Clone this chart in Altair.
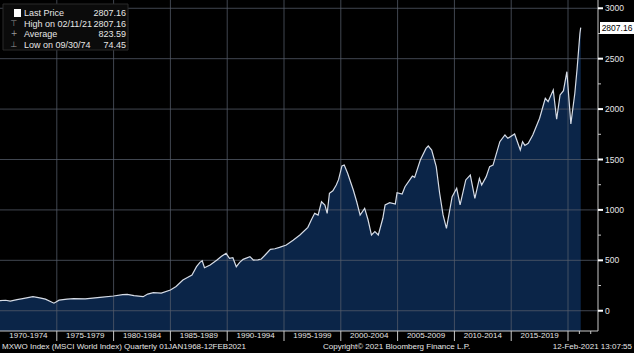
import altair as alt
import pandas as pd

# ---- data ----
years = [1970.0, 1970.5, 1970.9, 1971.5, 1972.0, 1972.9, 1973.5, 1974.0, 1974.75,
         1975.2, 1975.9, 1976.5, 1977.5, 1978.8, 1980.0, 1980.8, 1981.2, 1981.8,
         1982.6, 1983.0, 1983.5, 1984.2, 1985.0, 1985.5, 1986.1, 1986.5, 1986.9,
         1987.3, 1987.6, 1987.8, 1988.0, 1988.5, 1989.1, 1989.5, 1989.9, 1990.2,
         1990.5, 1990.8, 1991.1, 1991.4, 1992.0, 1992.3, 1992.7, 1993.0, 1993.4,
         1993.8, 1994.2, 1994.6, 1995.2, 1995.8, 1996.4, 1997.1, 1997.4, 1997.7,
         1998.0, 1998.3, 1998.6, 1998.8, 1999.0, 1999.3, 1999.6, 1999.8, 2000.1,
         2000.3, 2000.6, 2001.1, 2001.4, 2001.7, 2002.1, 2002.4, 2002.7, 2003.0,
         2003.3, 2003.7, 2003.9, 2004.3, 2004.8, 2004.95, 2005.4, 2005.65, 2006.3,
         2006.5, 2007.0, 2007.5, 2007.7, 2008.0, 2008.4, 2008.7, 2009.0, 2009.3,
         2009.8, 2010.2, 2010.5, 2011.0, 2011.4, 2011.8, 2012.2, 2012.4, 2012.8,
         2013.1, 2013.4, 2013.7, 2014.0, 2014.45, 2014.7, 2015.3, 2015.8, 2016.0,
         2016.2, 2016.5, 2016.9, 2017.5, 2018.0, 2018.25, 2018.7, 2019.0, 2019.3,
         2019.6, 2019.9, 2020.25, 2020.6, 2020.8, 2021.05, 2021.12]
values = [100, 104, 96, 110, 120, 139, 128, 115, 75,
          105, 116, 120, 118, 133, 146, 160, 163, 150,
          139, 165, 179, 175, 205, 240, 305, 330, 354,
          437, 480, 496, 427, 453, 503, 540, 569, 519,
          526, 437, 480, 510, 536, 503, 505, 513, 560,
          609, 615, 629, 652, 700, 751, 827, 900, 966,
          949, 1081, 1049, 966, 1165, 1190, 1247, 1300, 1436,
          1445, 1363, 1197, 1081, 949, 1016, 900, 751, 784,
          751, 917, 1049, 1072, 1059, 1171, 1158, 1230, 1336,
          1323, 1495, 1610, 1634, 1594, 1429, 1165, 950, 817,
          1131, 1214, 1049, 1297, 1346, 1115, 1313, 1247, 1330,
          1429, 1445, 1560, 1677, 1743, 1710, 1753, 1594, 1677,
          1640, 1661, 1743, 1909, 2107, 2073, 2190, 1899, 2140,
          2183, 2371, 1852, 2157, 2400, 2752, 2807.16]

period_labels = ["1970-1974", "1975-1979", "1980-1984", "1985-1989", "1990-1994",
                 "1995-1999", "2000-2004", "2005-2009", "2010-2014", "2015-2019"]
period_centers = [1972.5, 1977.5, 1982.5, 1987.5, 1992.5,
                  1997.5, 2002.5, 2007.5, 2012.5, 2017.5]
boundaries = [1975, 1980, 1985, 1990, 1995, 2000, 2005, 2010, 2015, 2020]
minor_years = [2021, 2022]
y_ticks = [0, 500, 1000, 1500, 2000, 2500, 3000]
y_minor = [250, 750, 1250, 1750, 2250, 2750]
y_tick_labels = ["0", "500", "1000", "1500", "2000", "2500", "3000"]

legend_labels = ["Last Price", "High on 02/11/21", "Average", "Low on 09/30/74"]
legend_values = ["2807.16", "2807.16", "823.59", "74.45"]
legend_icons = ["", "\u22a4", "+", "\u22a5"]

last_price = 2807.16
footer_left = "MXWO Index (MSCI World Index)  Quarterly 01JAN1968-12FEB2021"
footer_mid = "Copyright\u00a9 2021 Bloomberg Finance L.P."
footer_right = "12-Feb-2021 13:07:55"

X_DOMAIN = [1970, 2022.64]
Y_DOMAIN = [-201, 3082]

FONT = "Liberation Sans"
TXT = "#e6e6e6"
GRID = "#565e6b"
AXIS = "#c8c8c8"
W, H = 598, 331

df = pd.DataFrame({"year": years, "value": values})
xs = alt.Scale(domain=X_DOMAIN, nice=False, zero=False)
ys = alt.Scale(domain=Y_DOMAIN, nice=False, zero=False)


def X(field):
    return alt.X(field, scale=xs, axis=None)


def Y(field):
    return alt.Y(field, scale=ys, axis=None)


one = pd.DataFrame({"a": [0]})

area = alt.Chart(df).mark_area(color="#0b2548", opacity=1).encode(
    x=X("year:Q"), y=Y("value:Q"), y2=alt.datum(Y_DOMAIN[0]),
)

vgrid = alt.Chart(pd.DataFrame({"gx": boundaries})).mark_rule(
    color=GRID, strokeWidth=1, opacity=0.75
).encode(x=X("gx:Q"), y=alt.value(0), y2=alt.value(H))

hgrid = alt.Chart(pd.DataFrame({"gy": y_ticks})).mark_rule(
    color=GRID, strokeWidth=1, opacity=0.75
).encode(y=Y("gy:Q"), x=alt.value(0), x2=alt.value(W))

line = alt.Chart(df).mark_line(color="#d6dce6", strokeWidth=1.2).encode(
    x=X("year:Q"), y=Y("value:Q"),
)

# axes drawn by hand
x_domain_line = alt.Chart(one).mark_rule(color=AXIS, strokeWidth=1).encode(
    x=alt.value(0), x2=alt.value(W), y=alt.value(H))
y_domain_line = alt.Chart(one).mark_rule(color=AXIS, strokeWidth=1).encode(
    x=alt.value(W), y=alt.value(0), y2=alt.value(H))
x_seps = alt.Chart(pd.DataFrame({"b": boundaries})).mark_rule(color=AXIS, strokeWidth=1).encode(
    x=X("b:Q"), y=alt.value(H), y2=alt.value(H + 10))
x_minor = alt.Chart(pd.DataFrame({"b": minor_years})).mark_rule(color=AXIS, strokeWidth=1).encode(
    x=X("b:Q"), y=alt.value(H), y2=alt.value(H + 3))
y_major = alt.Chart(pd.DataFrame({"t": y_ticks})).mark_rule(color="white", strokeWidth=2).encode(
    y=Y("t:Q"), x=alt.value(W), x2=alt.value(W + 5))
y_minor_t = alt.Chart(pd.DataFrame({"t": y_minor})).mark_rule(color=AXIS, strokeWidth=1).encode(
    y=Y("t:Q"), x=alt.value(W), x2=alt.value(W + 3))
y_labels = alt.Chart(pd.DataFrame({"t": y_ticks, "lab": y_tick_labels})).mark_text(
    color=TXT, font=FONT, fontSize=8.5, align="left", baseline="middle"
).encode(y=Y("t:Q"), x=alt.value(W + 7), text="lab:N")

periods = alt.Chart(pd.DataFrame({"center": period_centers, "label": period_labels})).mark_text(
    color=TXT, font=FONT, fontSize=8, baseline="middle", align="center"
).encode(x=X("center:Q"), y=alt.value(336), text="label:N")

layers = [area, vgrid, hgrid, line, x_domain_line, y_domain_line, x_seps, x_minor,
          y_major, y_minor_t, y_labels, periods]

# legend box
layers.append(alt.Chart(one).mark_rect(
    fill="#0b0b0b", stroke="#2a2a2a", strokeWidth=1
).encode(x=alt.value(3), x2=alt.value(128), y=alt.value(4), y2=alt.value(50)))
layers.append(alt.Chart(one).mark_rect(fill="white").encode(
    x=alt.value(14), x2=alt.value(21), y=alt.value(9), y2=alt.value(17)))

ROW0, ROWSTEP = 13, 10.5
for i, (lab, val, ico) in enumerate(zip(legend_labels, legend_values, legend_icons)):
    ry = ROW0 + i * ROWSTEP
    d = pd.DataFrame({"label": [lab], "val": [val], "icon": [ico]})
    layers.append(alt.Chart(d).mark_text(
        color=TXT, font=FONT, fontSize=9, align="left", baseline="middle"
    ).encode(x=alt.value(24), y=alt.value(ry), text="label:N"))
    layers.append(alt.Chart(d).mark_text(
        color=TXT, font=FONT, fontSize=9, align="right", baseline="middle"
    ).encode(x=alt.value(126), y=alt.value(ry), text="val:N"))
    if ico:
        layers.append(alt.Chart(d).mark_text(
            color="#9a9a9a", font="DejaVu Sans", fontSize=8, align="center", baseline="middle"
        ).encode(x=alt.value(14), y=alt.value(ry), text="icon:N"))

# last price tag
layers.append(alt.Chart(one).mark_rect(fill="white").encode(
    x=alt.value(W + 2), x2=alt.value(634), y=alt.value(22), y2=alt.value(34)))
layers.append(alt.Chart(pd.DataFrame({"t": [f"{last_price:.2f}"], "v": [last_price]})).mark_text(
    color="black", font=FONT, fontSize=8.5, align="center", baseline="middle"
).encode(x=alt.value(617), y=Y("v:Q"), text="t:N"))

# footers
layers.append(alt.Chart(pd.DataFrame({"t": [footer_left]})).mark_text(
    color=TXT, font=FONT, fontSize=8, align="left", baseline="middle"
).encode(x=alt.value(2), y=alt.value(347), text="t:N"))
layers.append(alt.Chart(pd.DataFrame({"t": [footer_mid]})).mark_text(
    color=TXT, font=FONT, fontSize=8, align="left", baseline="middle"
).encode(x=alt.value(323), y=alt.value(347), text="t:N"))
layers.append(alt.Chart(pd.DataFrame({"t": [footer_right]})).mark_text(
    color=TXT, font=FONT, fontSize=8, align="right", baseline="middle"
).encode(x=alt.value(632), y=alt.value(347), text="t:N"))

chart = alt.layer(*layers).properties(
    width=W, height=H,
    padding={"left": 0, "top": 0, "right": 36, "bottom": 22},
    autosize="none",
).configure(background="black").configure_view(stroke=None)

chart.save("out.html", embed_options={"renderer": "svg", "actions": False})
